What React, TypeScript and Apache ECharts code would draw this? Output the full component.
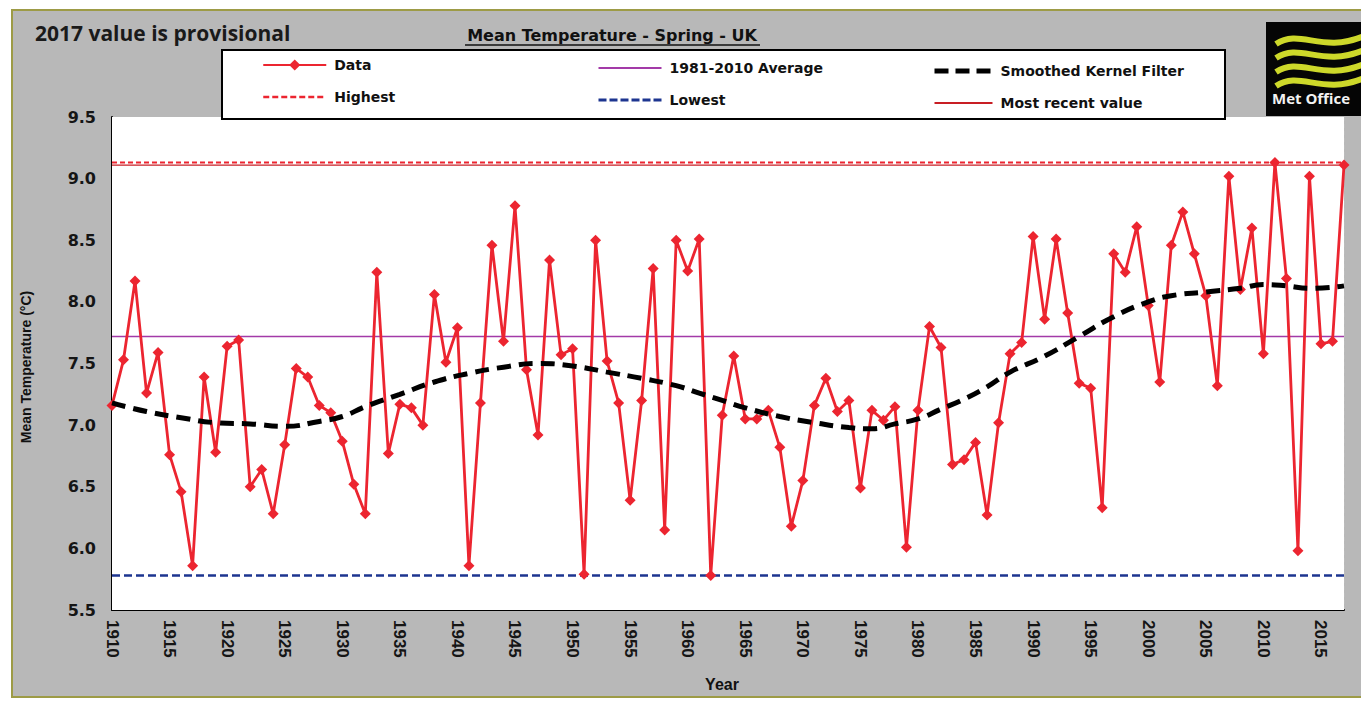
import React, { useEffect, useRef } from "react";
import * as echarts from "echarts";

// ---- Data ----
const startYear = 1910;
const springTemps = [
  7.16, 7.53, 8.17, 7.26, 7.59, 6.76, 6.46, 5.86, 7.39, 6.78,
  7.64, 7.69, 6.5, 6.64, 6.28, 6.84, 7.46, 7.39, 7.16, 7.1,
  6.87, 6.52, 6.28, 8.24, 6.77, 7.17, 7.14, 7.0, 8.06, 7.51,
  7.79, 5.86, 7.18, 8.46, 7.68, 8.78, 7.45, 6.92, 8.34, 7.57,
  7.62, 5.79, 8.5, 7.52, 7.18, 6.39, 7.2, 8.27, 6.15, 8.5,
  8.25, 8.51, 5.78, 7.08, 7.56, 7.05, 7.05, 7.12, 6.82, 6.18,
  6.55, 7.16, 7.38, 7.11, 7.2, 6.49, 7.12, 7.04, 7.15, 6.01,
  7.12, 7.8, 7.63, 6.68, 6.72, 6.86, 6.27, 7.02, 7.58, 7.67,
  8.53, 7.86, 8.51, 7.91, 7.34, 7.3, 6.33, 8.39, 8.24, 8.61,
  7.97, 7.35, 8.46, 8.73, 8.39, 8.05, 7.32, 9.02, 8.1, 8.6,
  7.58, 9.13, 8.19, 5.98, 9.02, 7.66, 7.68, 9.11,
];
const years = springTemps.map((_, i) => startYear + i);

const smoothYears = [
  1910, 1913, 1916, 1919, 1922, 1925, 1928, 1930, 1932, 1935, 1938, 1941,
  1944, 1947, 1950, 1953, 1956, 1959, 1961, 1963, 1965, 1968, 1971, 1974,
  1976, 1978, 1980, 1982, 1984, 1986, 1988, 1991, 1994, 1997, 2000, 2002,
  2005, 2008, 2010, 2012, 2014, 2017,
];
const smoothValues = [
  7.18, 7.11, 7.06, 7.02, 7.01, 6.99, 7.03, 7.07, 7.15, 7.25, 7.35, 7.42,
  7.47, 7.5, 7.48, 7.43, 7.38, 7.32, 7.26, 7.2, 7.14, 7.07, 7.02, 6.98,
  6.97, 7.01, 7.05, 7.13, 7.21, 7.31, 7.43, 7.56, 7.72, 7.88, 8.0, 8.05,
  8.08, 8.11, 8.14, 8.13, 8.11, 8.13,
];

const average19812010 = 7.72;
const yTicks = ["5.5", "6.0", "6.5", "7.0", "7.5", "8.0", "8.5", "9.0", "9.5"];

const highest = Math.max(...springTemps);
const lowest = Math.min(...springTemps);
const mostRecent = springTemps[springTemps.length - 1];
const firstYear = years[0];
const lastYear = years[years.length - 1];

const RED = "#ec2530";
const FONT = "Liberation Sans, Arial, sans-serif";
const WIDE = "DejaVu Sans, Verdana, sans-serif";

function flat(v: number) {
  return [
    [firstYear, v],
    [lastYear, v],
  ];
}

const lineOnly = (name: string, lineStyle?: any) => ({
  name,
  itemStyle: { opacity: 0 },
  ...(lineStyle ? { lineStyle } : {}),
});

export default function App() {
  const ref = useRef<HTMLDivElement>(null);

  useEffect(() => {
    if (!ref.current) return;
    const chart = echarts.init(ref.current, null, { renderer: "svg" });

    const legendText = {
      color: "#111",
      fontFamily: WIDE,
      fontWeight: "bold" as const,
      fontSize: 14,
      padding: [0, 0, 0, 3],
    };

    const waveY = [40, 54, 68, 82];

    const option: any = {
      animation: false,
      backgroundColor: "#ffffff",
      textStyle: { fontFamily: FONT },
      grid: {
        left: 112,
        top: 117,
        width: 1232,
        height: 493,
        show: true,
        backgroundColor: "#ffffff",
        borderWidth: 0,
        z: 1,
      },
      legend: [
        {
          orient: "vertical",
          left: 262,
          top: 58,
          padding: 0,
          itemWidth: 63,
          itemHeight: 14,
          itemGap: 18,
          data: ["Data", lineOnly("Highest", { width: 2.5, type: [6, 3] })],
          textStyle: legendText,
          selectedMode: false,
        },
        {
          orient: "vertical",
          left: 597,
          top: 61,
          padding: 0,
          itemWidth: 63,
          itemHeight: 14,
          itemGap: 18,
          data: [
            lineOnly("1981-2010 Average", { width: 2 }),
            lineOnly("Lowest", { width: 3, type: [8, 3] }),
          ],
          textStyle: legendText,
          selectedMode: false,
        },
        {
          orient: "vertical",
          left: 932,
          top: 64,
          padding: 0,
          itemWidth: 58,
          itemHeight: 14,
          itemGap: 18,
          data: [
            lineOnly("Smoothed Kernel Filter", { width: 5, type: [14, 7] }),
            lineOnly("Most recent value", { width: 1.8 }),
          ],
          textStyle: legendText,
          selectedMode: false,
        },
      ],
      xAxis: {
        type: "value",
        min: 1910,
        max: lastYear,
        interval: 5,
        axisLine: { show: true, onZero: false, lineStyle: { color: "#000", width: 2 } },
        axisTick: { show: false },
        axisLabel: {
          rotate: -90,
          margin: 10,
          color: "#151515",
          fontWeight: "bold",
          fontSize: 17,
          fontFamily: FONT,
          formatter: (v: number) => (v % 5 === 0 ? String(v) : ""),
        },
        splitLine: { show: true, lineStyle: { color: "#bcbcbc", width: 1, type: [4, 3] } },
      },
      yAxis: {
        type: "value",
        min: 5.5,
        max: 9.5,
        interval: 0.5,
        axisLine: { show: true, lineStyle: { color: "#000", width: 2 } },
        axisTick: { show: false },
        axisLabel: {
          margin: 16,
          color: "#151515",
          fontWeight: "bold",
          fontSize: 16,
          fontFamily: WIDE,
          formatter: (v: number) => {
            const s = v.toFixed(1);
            return yTicks.indexOf(s) >= 0 ? s : "";
          },
        },
        splitLine: { show: true, lineStyle: { color: "#bcbcbc", width: 1, type: [4, 3] } },
      },
      series: [
        {
          name: "1981-2010 Average",
          type: "line",
          data: flat(average19812010),
          symbol: "none",
          lineStyle: { color: "#a33aa8", width: 1.5 },
          itemStyle: { color: "#a33aa8" },
          z: 2,
        },
        {
          name: "Highest",
          type: "line",
          data: flat(highest),
          symbol: "none",
          lineStyle: { color: RED, width: 2, type: [5, 3] },
          itemStyle: { color: RED },
          z: 2,
        },
        {
          name: "Most recent value",
          type: "line",
          data: flat(mostRecent),
          symbol: "none",
          lineStyle: { color: "#c81e24", width: 1.3 },
          itemStyle: { color: "#c81e24" },
          z: 2,
        },
        {
          name: "Lowest",
          type: "line",
          data: flat(lowest),
          symbol: "none",
          lineStyle: { color: "#1d3590", width: 2.5, type: [8, 4] },
          itemStyle: { color: "#1d3590" },
          z: 2,
        },
        {
          name: "Data",
          type: "line",
          data: years.map((y, i) => [y, springTemps[i]]),
          symbol: "diamond",
          symbolSize: 11,
          showAllSymbol: true,
          lineStyle: { color: RED, width: 2.8 },
          itemStyle: { color: RED },
          z: 3,
        },
        {
          name: "Smoothed Kernel Filter",
          type: "line",
          smooth: 0.5,
          data: smoothYears.map((y, i) => [y, smoothValues[i]]),
          symbol: "none",
          lineStyle: { color: "#000", width: 5, type: [14, 8] },
          itemStyle: { color: "#000" },
          z: 4,
        },
      ],
      graphic: [
        {
          type: "rect",
          z: -10,
          silent: true,
          shape: { x: 12, y: 10, width: 1352, height: 687 },
          style: { fill: "#b8b8b8", stroke: "#9d9b46", lineWidth: 2 },
        },
        {
          type: "text",
          z: 5,
          left: 35,
          top: 22,
          style: {
            text: "2017 value is provisional",
            font: "bold 21px 'Open Sans', sans-serif",
            fill: "#1a1a1a",
          },
        },
        {
          type: "text",
          z: 5,
          x: 612,
          y: 35,
          style: {
            text: "Mean Temperature - Spring - UK",
            font: "bold 16px 'DejaVu Sans', Verdana, sans-serif",
            fill: "#111",
            align: "center",
            verticalAlign: "middle",
          },
        },
        {
          type: "line",
          z: 5,
          shape: { x1: 465, y1: 45, x2: 760, y2: 45 },
          style: { stroke: "#111", lineWidth: 1.5 },
        },
        {
          type: "rect",
          z: 1,
          shape: { x: 222, y: 50, width: 1003, height: 69 },
          style: { fill: "#ffffff", stroke: "#000", lineWidth: 2 },
        },
        {
          type: "text",
          z: 5,
          x: 26,
          y: 367,
          rotation: Math.PI / 2,
          style: {
            text: "Mean Temperature (°C)",
            font: "bold 14px 'Liberation Sans', Arial, sans-serif",
            fill: "#111",
            align: "center",
            verticalAlign: "middle",
          },
        },
        {
          type: "text",
          z: 5,
          x: 722,
          y: 684,
          style: {
            text: "Year",
            font: "bold 16px 'Liberation Sans', Arial, sans-serif",
            fill: "#111",
            align: "center",
            verticalAlign: "middle",
          },
        },
        {
          type: "group",
          z: 5,
          children: [
            {
              type: "rect",
              shape: { x: 1266, y: 22, width: 100, height: 94 },
              style: { fill: "#050505" },
            },
            ...waveY.map((wy) => ({
              type: "bezierCurve",
              shape: {
                x1: 1276,
                y1: wy + 4,
                cpx1: 1300,
                cpy1: wy - 12,
                cpx2: 1322,
                cpy2: wy + 14,
                x2: 1364,
                y2: wy - 4,
              },
              style: { stroke: "#cdd82a", lineWidth: 6, fill: "none" },
            })),
            {
              type: "text",
              x: 1272,
              y: 98,
              style: {
                text: "Met Office",
                font: "bold 15px 'Open Sans', sans-serif",
                fill: "#f2f2f2",
                verticalAlign: "middle",
              },
            },
          ],
        },
      ],
    };

    chart.setOption(option);
    return () => chart.dispose();
  }, []);

  return (
    <div
      ref={ref}
      style={{ position: "fixed", left: 0, top: 0, width: 1361, height: 704 }}
    />
  );
}
